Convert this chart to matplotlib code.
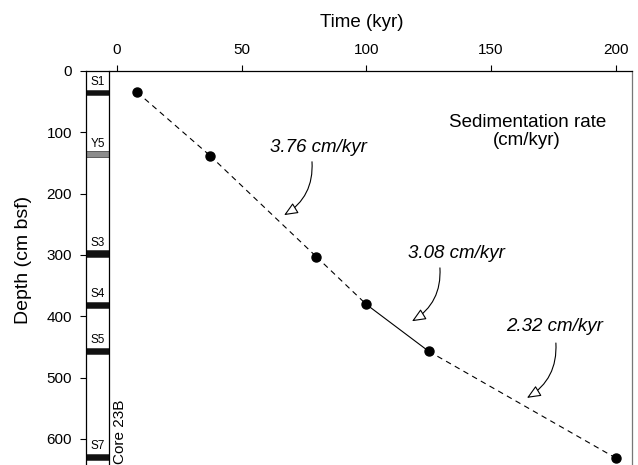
import matplotlib
matplotlib.use("Agg")
import matplotlib.pyplot as plt
from matplotlib.patches import Rectangle
import matplotlib.transforms as mtransforms

plt.rcParams['font.family'] = ['Liberation Sans', 'DejaVu Sans']

# ---- data ----
time_kyr = [8.1, 37.3, 80.0, 100.0, 125.0, 200.0]
depth_cm = [34.7, 138.0, 303.0, 380.6, 457.0, 631.0]
segment_styles = ['--', '--', '--', '-', '--']

x_ticks = [0, 50, 100, 150, 200]
y_ticks = [0, 100, 200, 300, 400, 500, 600]

layer_names = ['S1', 'Y5', 'S3', 'S4', 'S5', 'S7']
layer_top = [30.5, 130.5, 292.0, 376.0, 451.0, 624.0]
layer_bottom = [39.5, 140.0, 303.0, 386.0, 462.0, 635.0]
layer_colors = ['#111111', '#8c8c8c', '#111111', '#111111', '#111111', '#111111']

rate_labels = ['3.76 cm/kyr', '3.08 cm/kyr', '2.32 cm/kyr']
rate_text_pos = [(80.6, 124), (136.3, 298), (175.6, 417)]
rate_arrow_start = [(78.2, 148), (129.5, 321), (176.0, 443.5)]
rate_arrow_tip = [(67.0, 235), (118.3, 408), (164.4, 533)]

# ---- figure ----
fig = plt.figure(figsize=(6.38, 4.65), dpi=100)
ax = fig.add_axes([86/638, 0.0, (631.7-86)/638, (465-71)/465])

ax.set_xlim(-12.43, 206.4)
ax.set_ylim(642.4, 0)

# data line segments
for i, ls in enumerate(segment_styles):
    kw = dict(color='black', lw=0.8)
    if ls == '--':
        kw['dashes'] = (5, 4)
    ax.plot(time_kyr[i:i+2], depth_cm[i:i+2], linestyle=ls, **kw)
ax.plot(time_kyr, depth_cm, 'o', color='black', ms=6.5, zorder=5)

# core column (axes x, data y)
trans = mtransforms.blended_transform_factory(ax.transAxes, ax.transData)
col_x0 = 0.0
col_w = (109 - 86) / (631.7 - 86)
ax.plot([col_w, col_w], [0, 642.4], transform=trans, color='black', lw=0.9, clip_on=False)
for name, top, bot, c in zip(layer_names, layer_top, layer_bottom, layer_colors):
    ax.add_patch(Rectangle((col_x0, top), col_w, bot - top, transform=trans,
                           facecolor=c, edgecolor='#333333', lw=0.5))
    ax.text(col_x0 + col_w/2, top - 2, name, transform=trans, ha='center', va='bottom',
            fontsize=8.5)
ax.text(1.3, 640, 'Core 23B', rotation=90, ha='center', va='bottom', fontsize=11)

# annotations
for lab, tp, st, tip in zip(rate_labels, rate_text_pos, rate_arrow_start, rate_arrow_tip):
    ax.text(tp[0], tp[1], lab, ha='center', va='center', fontsize=13.5, style='italic')
    ax.annotate('', xy=tip, xytext=st,
                arrowprops=dict(arrowstyle='-|>,head_length=0.7,head_width=0.3',
                                mutation_scale=12, fc='white', ec='black', lw=0.8,
                                connectionstyle='arc3,rad=-0.3', shrinkA=0, shrinkB=0))

ax.text(164.5, 99, 'Sedimentation rate\n(cm/kyr)', ha='center', va='center',
        fontsize=13.5, linespacing=1.05)

# axes styling
ax.xaxis.tick_top()
ax.xaxis.set_label_position('top')
ax.set_xticks(x_ticks)
ax.set_yticks(y_ticks)
ax.tick_params(direction='out', length=4, width=0.8, labelsize=11, pad=6)
ax.spines['bottom'].set_visible(False)
ax.spines['right'].set_color('#777777')
for s in ['top', 'left', 'right']:
    ax.spines[s].set_linewidth(0.9)

ax.set_xlabel('Time (kyr)', fontsize=13.5)
ax.xaxis.set_label_coords((362-86)/545.7, (465-27.3)/394)
ax.set_ylabel('Depth (cm bsf)', fontsize=14)
ax.yaxis.set_label_coords((32-86)/545.7, (465-260)/394)

fig.savefig('out.png', dpi=100)
